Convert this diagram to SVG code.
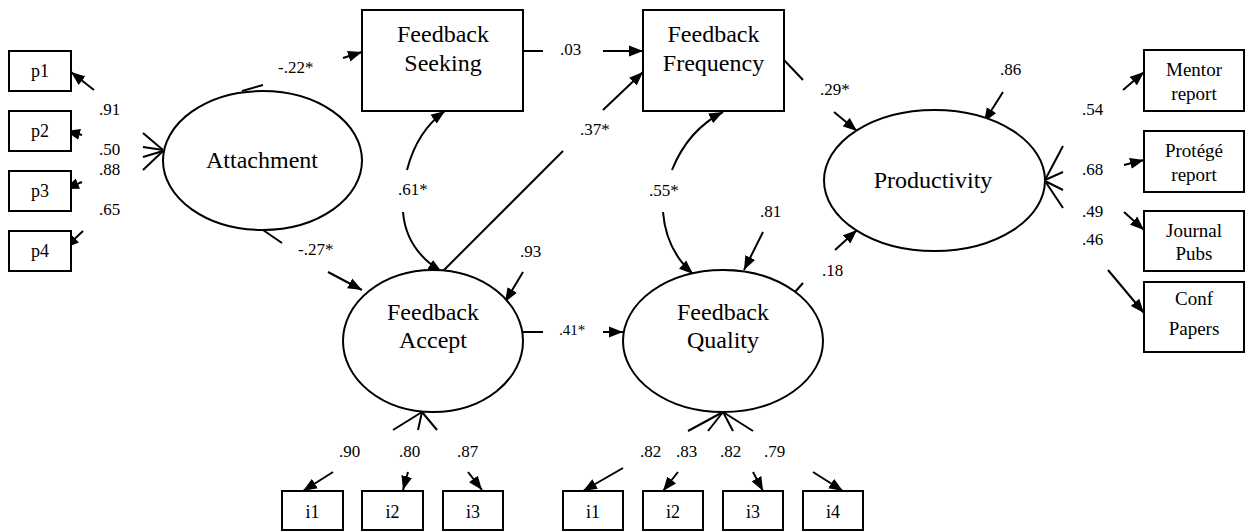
<svg xmlns="http://www.w3.org/2000/svg" width="1247" height="532" viewBox="0 0 1247 532">
<defs>
<marker id="ah" markerUnits="userSpaceOnUse" markerWidth="16" markerHeight="12" refX="14" refY="6" orient="auto">
<path d="M0,0.5 L14,6 L0,11.5 z" fill="#000"/>
</marker>
</defs>
<style>
.n{fill:#fff;stroke:#000;stroke-width:2}
.c{fill:none;stroke:#000;stroke-width:2}
.a{marker-end:url(#ah)}
text{font-family:"Liberation Serif","Times New Roman",serif;fill:#000}
.big{font-size:24px;text-anchor:middle}
.box{font-size:19px;text-anchor:middle}
.sm{font-size:18px;text-anchor:middle}
.num{font-size:17px}
</style>
<rect width="1247" height="532" fill="#fff"/>

<g id="connectors">
<line class="c" x1="242" y1="91" x2="263" y2="85"/>
<line class="c a" x1="343" y1="58" x2="362" y2="52"/>
<line class="c" x1="263" y1="230" x2="282" y2="243"/>
<line class="c a" x1="328" y1="272" x2="362" y2="290"/>
<line class="c" x1="523" y1="51" x2="543" y2="51"/>
<line class="c a" x1="603" y1="51" x2="643" y2="51"/>
<line class="c" x1="443" y1="271" x2="563" y2="151"/>
<line class="c a" x1="603" y1="110" x2="643" y2="72"/>
<path class="c a" d="M407,170 Q417,131 445,111"/>
<path class="c a" d="M403,212 Q406,250 442,272"/>
<path class="c a" d="M672,170 Q688,130 723,112"/>
<path class="c a" d="M663,212 Q666,250 693,274"/>
<line class="c" x1="784" y1="60" x2="803" y2="80"/>
<line class="c a" x1="834" y1="112" x2="857" y2="131"/>
<line class="c" x1="795" y1="292" x2="803" y2="283"/>
<line class="c a" x1="835" y1="250" x2="857" y2="230"/>
<line class="c" x1="523" y1="332" x2="543" y2="332"/>
<line class="c a" x1="603" y1="332" x2="623" y2="332"/>
<line class="c a" x1="523" y1="272" x2="505" y2="302"/>
<line class="c a" x1="763" y1="232" x2="744" y2="270"/>
<line class="c a" x1="1003" y1="92" x2="984" y2="122"/>
<line class="c" x1="163" y1="150" x2="143" y2="133"/>
<line class="c" x1="163" y1="150" x2="143" y2="147"/>
<line class="c" x1="163" y1="151" x2="143" y2="157"/>
<line class="c" x1="163" y1="151" x2="143" y2="170"/>
<line class="c a" x1="94" y1="90" x2="71" y2="72"/>
<line class="c a" x1="82" y1="135" x2="66" y2="131"/>
<line class="c a" x1="82" y1="182" x2="65" y2="189"/>
<line class="c a" x1="83" y1="231" x2="65" y2="248"/>
<line class="c" x1="1045" y1="180" x2="1063" y2="146"/>
<line class="c" x1="1045" y1="180" x2="1063" y2="172"/>
<line class="c" x1="1045" y1="181" x2="1063" y2="190"/>
<line class="c" x1="1045" y1="181" x2="1063" y2="208"/>
<line class="c a" x1="1123" y1="90" x2="1144" y2="72"/>
<line class="c a" x1="1124" y1="165" x2="1144" y2="160"/>
<line class="c a" x1="1124" y1="212" x2="1144" y2="230"/>
<line class="c a" x1="1108" y1="270" x2="1144" y2="313"/>
<line class="c" x1="422" y1="412" x2="393" y2="430"/>
<line class="c" x1="422" y1="412" x2="418" y2="430"/>
<line class="c" x1="422" y1="412" x2="437" y2="430"/>
<line class="c a" x1="333" y1="472" x2="303" y2="491"/>
<line class="c a" x1="408" y1="472" x2="403" y2="490"/>
<line class="c a" x1="468" y1="472" x2="482" y2="490"/>
<line class="c" x1="723" y1="412" x2="688" y2="431"/>
<line class="c" x1="723" y1="412" x2="708" y2="431"/>
<line class="c" x1="723" y1="412" x2="733" y2="431"/>
<line class="c" x1="723" y1="412" x2="753" y2="431"/>
<line class="c a" x1="623" y1="468" x2="583" y2="491"/>
<line class="c a" x1="678" y1="472" x2="663" y2="491"/>
<line class="c a" x1="753" y1="472" x2="763" y2="491"/>
<line class="c a" x1="813" y1="472" x2="843" y2="491"/>
<text class="num" x="278" y="73">-.22*</text>
<text class="num" x="298" y="255">-.27*</text>
<text class="num" x="560" y="55">.03</text>
<text class="num" x="580" y="135">.37*</text>
<text class="num" x="398" y="195">.61*</text>
<text class="num" x="649" y="196">.55*</text>
<text class="num" x="520" y="257">.93</text>
<text class="num" x="760" y="217">.81</text>
<text class="num" x="559" y="335" style="font-size:15px">.41*</text>
<text class="num" x="820" y="95">.29*</text>
<text class="num" x="1000" y="75">.86</text>
<text class="num" x="822" y="276">.18</text>
<text class="num" x="1082" y="115">.54</text>
<text class="num" x="1082" y="175">.68</text>
<text class="num" x="1082" y="217">.49</text>
<text class="num" x="1082" y="245">.46</text>
<text class="num" x="99" y="115">.91</text>
<text class="num" x="99" y="155">.50</text>
<text class="num" x="99" y="175">.88</text>
<text class="num" x="99" y="215">.65</text>
<text class="num" x="339" y="457">.90</text>
<text class="num" x="399" y="457">.80</text>
<text class="num" x="457" y="457">.87</text>
<text class="num" x="640" y="457">.82</text>
<text class="num" x="676" y="457">.83</text>
<text class="num" x="720" y="457">.82</text>
<text class="num" x="764" y="457">.79</text>
</g>

<g id="attachment">
<ellipse class="n" cx="262.5" cy="160.5" rx="99.5" ry="69.5"/>
<text class="big" x="262" y="168">Attachment</text>
</g>
<g id="feedback-seeking">
<rect class="n" x="362" y="10" width="161" height="101"/>
<text class="big" x="443" y="42">Feedback</text>
<text class="big" x="443" y="71">Seeking</text>
</g>
<g id="feedback-frequency">
<rect class="n" x="643" y="10" width="141" height="101"/>
<text class="big" x="713.5" y="42">Feedback</text>
<text class="big" x="713.5" y="71">Frequency</text>
</g>
<g id="feedback-accept">
<ellipse class="n" cx="433" cy="341" rx="90" ry="71"/>
<text class="big" x="433" y="320">Feedback</text>
<text class="big" x="433" y="348">Accept</text>
</g>
<g id="feedback-quality">
<ellipse class="n" cx="723" cy="341" rx="100" ry="71"/>
<text class="big" x="723" y="320">Feedback</text>
<text class="big" x="723" y="348">Quality</text>
</g>
<g id="productivity">
<ellipse class="n" cx="934.5" cy="180.5" rx="110.5" ry="70.5"/>
<text class="big" x="933" y="188">Productivity</text>
</g>
<g id="p1"><rect class="n" x="9" y="51" width="62" height="40"/><text class="sm" x="40" y="77">p1</text></g>
<g id="p2"><rect class="n" x="9" y="111" width="62" height="40"/><text class="sm" x="40" y="137">p2</text></g>
<g id="p3"><rect class="n" x="9" y="171" width="62" height="40"/><text class="sm" x="40" y="197">p3</text></g>
<g id="p4"><rect class="n" x="9" y="231" width="62" height="40"/><text class="sm" x="40" y="257">p4</text></g>
<g id="mentor-report"><rect class="n" x="1144" y="50" width="100" height="61"/><text class="box" x="1194" y="76">Mentor</text><text class="box" x="1194" y="100">report</text></g>
<g id="protege-report"><rect class="n" x="1144" y="131" width="100" height="61"/><text class="box" x="1194" y="157">Protégé</text><text class="box" x="1194" y="181">report</text></g>
<g id="journal-pubs"><rect class="n" x="1144" y="211" width="100" height="60"/><text class="box" x="1194" y="237">Journal</text><text class="box" x="1194" y="260">Pubs</text></g>
<g id="conf-papers"><rect class="n" x="1144" y="282" width="100" height="70"/><text class="box" x="1194" y="305">Conf</text><text class="box" x="1194" y="335">Papers</text></g>
<g id="fa-i1"><rect class="n" x="282" y="491" width="61" height="39"/><text class="sm" x="312.5" y="518">i1</text></g>
<g id="fa-i2"><rect class="n" x="362" y="491" width="61" height="39"/><text class="sm" x="392.5" y="518">i2</text></g>
<g id="fa-i3"><rect class="n" x="443" y="491" width="60" height="39"/><text class="sm" x="473" y="518">i3</text></g>
<g id="fq-i1"><rect class="n" x="563" y="491" width="60" height="39"/><text class="sm" x="593" y="518">i1</text></g>
<g id="fq-i2"><rect class="n" x="643" y="491" width="60" height="39"/><text class="sm" x="673" y="518">i2</text></g>
<g id="fq-i3"><rect class="n" x="723" y="491" width="60" height="39"/><text class="sm" x="753" y="518">i3</text></g>
<g id="fq-i4"><rect class="n" x="803" y="491" width="60" height="39"/><text class="sm" x="833" y="518">i4</text></g>
</svg>
